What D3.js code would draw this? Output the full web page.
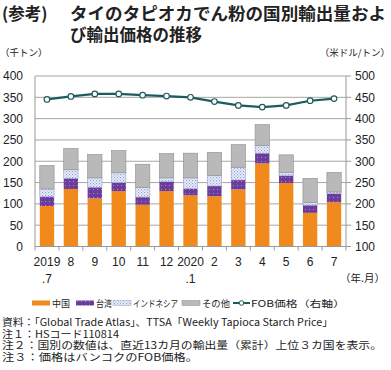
<!DOCTYPE html>
<html><head><meta charset="utf-8">
<script src="https://cdn.jsdelivr.net/npm/d3@7"></script>
<style>
body{margin:0;background:#fff;}
svg{display:block;font-family:"Noto Sans CJK JP","Noto Sans",sans-serif;}
</style></head>
<body><svg id="c" width="391" height="370"></svg>
<script>
const months = ["2019\n.7","8","9","10","11","12","2020\n.1","2","3","4","5","6","7"];
const china = [95,135,113,130,98,130,120,118,134,195,149,79,104];
const taiwan = [22,25,26,20,18,22,16,24,22,24,17,18,20];
const indonesia = [18,20,22,23,22,9,25,25,30,18,8,6,4];
const others = [55,50,55,52,55,57,58,54,53,49,41,57,46];
const price = [445,452,458,458,455,453,450,440,431,427,431,442,447];
const leftTicks = [0,50,100,150,200,250,300,350,400];
const rightTicks = [100,150,200,250,300,350,400,450,500];
const seriesNames = ["中国","台湾","インドネシア","その他"];

const svg = d3.select("#c");
const L=35, R=346, T=76, B=246.5;
const x = d3.scaleBand().domain(d3.range(months.length)).range([L,R]).paddingInner(0.4).paddingOuter(0.2);
const yL = d3.scaleLinear().domain([0,400]).range([B,T]);
const yR = d3.scaleLinear().domain([100,500]).range([B,T]);
const numFont = "Liberation Sans, Arial, sans-serif";

// patterns
const defs = svg.append("defs");
const pTw = defs.append("pattern").attr("id","ptw").attr("width",4).attr("height",4).attr("patternUnits","userSpaceOnUse");
pTw.append("rect").attr("width",4).attr("height",4).attr("fill","#6b3c9c");
pTw.append("rect").attr("x",1).attr("y",1).attr("width",0.8).attr("height",0.8).attr("fill","#c9b6e0");
const pIn = defs.append("pattern").attr("id","pin").attr("width",3).attr("height",3).attr("patternUnits","userSpaceOnUse");
pIn.append("rect").attr("width",3).attr("height",3).attr("fill","#eef1fa");
pIn.append("rect").attr("x",0).attr("y",0).attr("width",1.2).attr("height",1.2).attr("fill","#8fa0d8");
pIn.append("rect").attr("x",1.5).attr("y",1.5).attr("width",1.2).attr("height",1.2).attr("fill","#a8b6e4");

const fills = ["#f08a1d","url(#ptw)","url(#pin)","#b9b9b9"];
const strokes = ["none","none","#9aa3c8","#8e8e8e"];

// gridlines
svg.append("g").selectAll("line").data(leftTicks.slice(1)).join("line")
  .attr("x1",L).attr("x2",R).attr("y1",d=>yL(d)).attr("y2",d=>yL(d))
  .attr("stroke","#a6a6a6").attr("stroke-width",1);

// stacked bars
const data = months.map((m,i)=>({i, v:[china[i],taiwan[i],indonesia[i],others[i]]}));
const g = svg.append("g");
data.forEach(d=>{
  let acc=0;
  d.v.forEach((v,k)=>{
    const y0=acc, y1=acc+v; acc=y1;
    g.append("rect").attr("x",x(d.i)).attr("width",x.bandwidth())
      .attr("y",yL(y1)).attr("height",yL(y0)-yL(y1))
      .attr("fill",fills[k]).attr("stroke",strokes[k]).attr("stroke-width",0.6);
  });
});

// axes lines
svg.append("line").attr("x1",L).attr("x2",L).attr("y1",T).attr("y2",B).attr("stroke","#999");
svg.append("line").attr("x1",R).attr("x2",R).attr("y1",T).attr("y2",B).attr("stroke","#999");
svg.append("line").attr("x1",L).attr("x2",R).attr("y1",B).attr("y2",B).attr("stroke","#999");

// x ticks at boundaries
svg.append("g").selectAll("line").data(d3.range(months.length+1)).join("line")
  .attr("x1",d=>L+d*(R-L)/months.length).attr("x2",d=>L+d*(R-L)/months.length)
  .attr("y1",B).attr("y2",B+4).attr("stroke","#999");

// right ticks
svg.append("g").selectAll("line").data(rightTicks).join("line")
  .attr("x1",R).attr("x2",R+5).attr("y1",d=>yR(d)).attr("y2",d=>yR(d)).attr("stroke","#999");

// tick labels
svg.append("g").selectAll("text").data(leftTicks).join("text")
  .attr("x",23).attr("y",d=>yL(d)).attr("dy","0.36em").attr("text-anchor","end")
  .attr("font-size",12).attr("fill","#222").attr("font-family",numFont).text(d=>d);
svg.append("g").selectAll("text").data(rightTicks).join("text")
  .attr("x",355).attr("y",d=>yR(d)).attr("dy","0.36em").attr("text-anchor","start")
  .attr("font-size",12).attr("fill","#222").attr("font-family",numFont).text(d=>d);

// x labels
const xl = svg.append("g").selectAll("text").data(months).join("text")
  .attr("x",(d,i)=>x(i)+x.bandwidth()/2).attr("y",266).attr("text-anchor","middle")
  .attr("font-size",12).attr("fill","#222").attr("font-family",numFont);
xl.each(function(d){
  const parts=d.split("\n"); const t=d3.select(this);
  parts.forEach((p,k)=>t.append("tspan").attr("x",t.attr("x")).attr("dy",k?"1.4em":0).text(p));
});
svg.append("text").attr("x",385).attr("y",282).attr("text-anchor","end").attr("font-size",10.5).attr("fill","#222").text("（年.月）");

// price line
const line = d3.line().x((d,i)=>x(i)+x.bandwidth()/2).y(d=>yR(d));
svg.append("path").datum(price).attr("d",line).attr("fill","none").attr("stroke","#1d5b5e").attr("stroke-width",2.2);
svg.append("g").selectAll("circle").data(price).join("circle")
  .attr("cx",(d,i)=>x(i)+x.bandwidth()/2).attr("cy",d=>yR(d)).attr("r",2.8)
  .attr("fill","#fff").attr("stroke","#1d5b5e").attr("stroke-width",1.2);

// title
svg.append("text").attr("x",2).attr("y",20).attr("font-size",16.5).attr("font-weight","bold").attr("fill","#222").text("(参考)");
svg.append("text").attr("x",70).attr("y",20).attr("font-size",16.5).attr("font-weight","bold").attr("fill","#222").attr("textLength",316).attr("lengthAdjust","spacingAndGlyphs").text("タイのタピオカでん粉の国別輸出量およ");
svg.append("text").attr("x",70).attr("y",41).attr("font-size",16.5).attr("font-weight","bold").attr("fill","#222").text("び輸出価格の推移");

svg.append("text").attr("x",0).attr("y",56).attr("font-size",9.5).attr("fill","#222").text("（千トン）");
svg.append("text").attr("x",390).attr("y",56).attr("text-anchor","end").attr("font-size",9.5).attr("fill","#222").text("（米ドル/トン）");

// legend
const lg = svg.append("g").attr("font-size",9.3).attr("fill","#222");
const legX = [32,76,113,182];
const legLen = [18,16,45,28];
seriesNames.forEach((n,k)=>{
  lg.append("rect").attr("x",legX[k]).attr("y",300.5).attr("width",18).attr("height",5).attr("fill",fills[k]).attr("stroke",strokes[k]).attr("stroke-width",0.5);
  lg.append("text").attr("x",legX[k]+20).attr("y",306.5).attr("textLength",legLen[k]).attr("lengthAdjust","spacingAndGlyphs").text(n);
});
lg.append("line").attr("x1",233).attr("x2",250).attr("y1",303).attr("y2",303).attr("stroke","#1d5b5e").attr("stroke-width",2);
lg.append("circle").attr("cx",241.5).attr("cy",303).attr("r",2.3).attr("fill","#fff").attr("stroke","#1d5b5e");
lg.append("text").attr("x",251).attr("y",306.5).attr("textLength",94).attr("lengthAdjust","spacingAndGlyphs").text("FOB価格（右軸）");

// notes
const notes = ["資料：「Global Trade Atlas」、TTSA「Weekly Tapioca Starch Price」","注１：HSコード110814","注２：国別の数値は、直近13カ月の輸出量（累計）上位３カ国を表示。","注３：価格はバンコクのFOB価格。"];
const noteLen = [331,117,380,196];
svg.append("g").selectAll("text").data(notes).join("text")
  .attr("x",2).attr("y",(d,i)=>326+i*11.5).attr("font-size",10)
  .attr("fill","#222").attr("textLength",(d,i)=>noteLen[i]).attr("lengthAdjust","spacingAndGlyphs")
  .text(d=>d);
</script></body></html>
